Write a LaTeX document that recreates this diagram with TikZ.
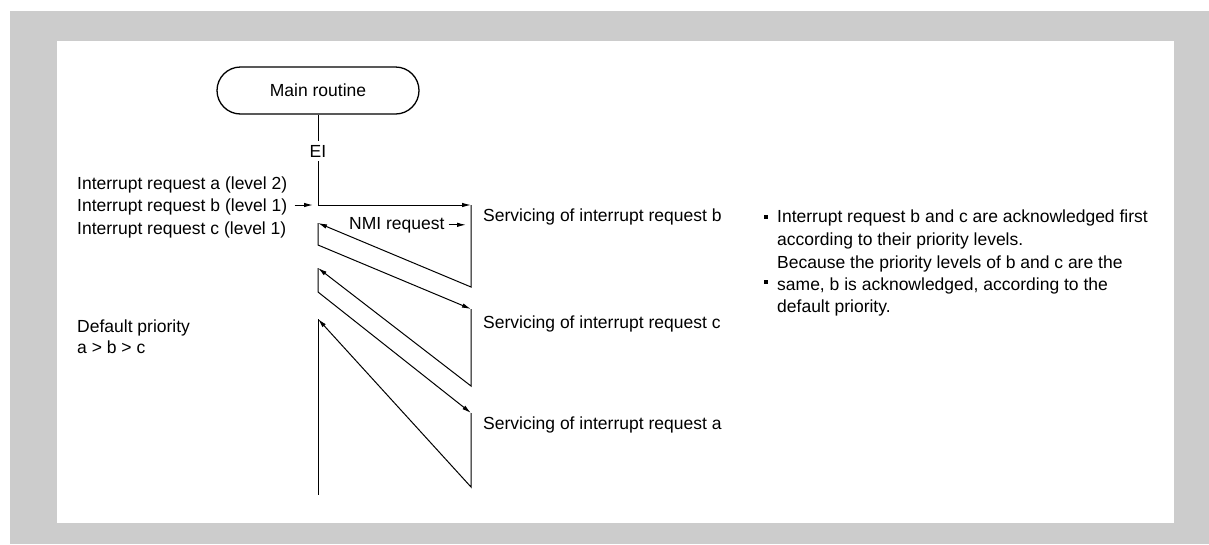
\documentclass[tikz,border=0pt]{standalone}
\usepackage{fontspec}
\setmainfont{Liberation Sans}
\usetikzlibrary{arrows.meta}
\definecolor{framegray}{HTML}{CCCCCC}
\begin{document}
\begin{tikzpicture}[x=1pt,y=-1pt,
  lbl/.style={inner sep=0pt,anchor=base west,font=\fontsize{17.5}{21}\selectfont},
  flow/.style={line width=1pt},
  arr/.style={flow,-{Latex[length=9pt,width=4.5pt]}},
  bulletsq/.style={fill=black,inner sep=0pt,minimum size=4pt}]
\useasboundingbox (0,0) rectangle (1209,544);
\fill[framegray] (10,11) rectangle (1209,544);
\fill[white] (57,41) rectangle (1174,523);

% main routine terminal
\node[draw,line width=1.3pt,rounded corners=23.5pt,minimum width=202pt,minimum height=47pt,
      inner sep=0pt,font=\fontsize{17.5}{21}\selectfont] (main) at (318,90.5) {Main routine};
\node[inner sep=4pt,anchor=base,font=\fontsize{17.5}{21}\selectfont] (ei) at (318,157) {EI};

% routing points
\coordinate (m0) at (318,205);
\coordinate (s0) at (471,205);
\coordinate (s1) at (471,287);
\coordinate (m1) at (318,223);
\coordinate (m2) at (318,245);
\coordinate (s2) at (471,309);
\coordinate (s3) at (471,386);
\coordinate (m3) at (318,268);
\coordinate (m4) at (318,292);
\coordinate (s4) at (471,413);
\coordinate (s5) at (471,487);
\coordinate (m5) at (318,319);
\coordinate (m6) at (318,495);

\draw[flow] (main.south) -- (ei.north);
\draw[flow] (ei.south) -- (m0);
\draw[arr] (m0) -- (s0);
\draw[arr] (s0) -- (s1) -- (m1);
\draw[arr] (m1) -- (m2) -- (s2);
\draw[arr] (s2) -- (s3) -- (m3);
\draw[arr] (m3) -- (m4) -- (s4);
\draw[arr] (s4) -- (s5) -- (m5);
\draw[flow] (m5) -- (m6);

% interrupt request labels
\node[lbl] (la) at (77,189) {Interrupt request a (level 2)};
\node[lbl] (lb) at (77,211.5) {Interrupt request b (level 1)};
\node[lbl] (lc) at (77,234) {Interrupt request c (level 1)};
\path (lb.east |- m0) ++(7pt,0) coordinate (inb);
\coordinate (inbend) at (313,205);
\draw[arr] (inb) -- (inbend);

% NMI request
\node[lbl] (nmi) at (349,229) {NMI request};
\path (nmi.east) ++(4pt,0) coordinate (nmiA);
\coordinate (nmiB) at (466,223);
\draw[arr] (nmiA) -- (nmiA -| nmiB);

% servicing labels
\node[lbl] (svb) at (483,221) {Servicing of interrupt request b};
\node[lbl] (svc) at (483,328) {Servicing of interrupt request c};
\node[lbl] (sva) at (483,429) {Servicing of interrupt request a};

% default priority
\node[lbl] (dp1) at (77,332) {Default priority};
\node[lbl] (dp2) at (77,353) {a > b > c};

% notes
\node[bulletsq] (bu1) at (766,216.5) {};
\node[bulletsq] (bu2) at (766,282) {};
\node[lbl] (r1) at (777,222) {Interrupt request b and c are acknowledged first};
\node[lbl] (r2) at (777,245) {according to their priority levels.};
\node[lbl] (r3) at (777,268) {Because the priority levels of b and c are the};
\node[lbl] (r4) at (777,290.5) {same, b is acknowledged, according to the};
\node[lbl] (r5) at (777,312) {default priority.};
\end{tikzpicture}
\end{document}
